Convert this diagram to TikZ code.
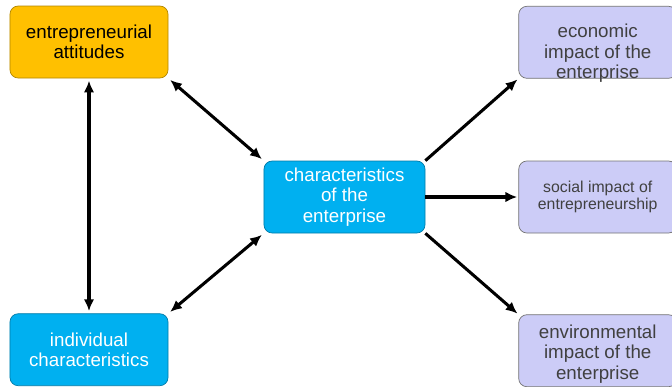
\documentclass[tikz,border=0pt]{standalone}
\usepackage{fontspec}
\setmainfont{Liberation Sans}
\usetikzlibrary{arrows.meta,
positioning,
calc}
\definecolor{attorange}{HTML}{FFC000}
\definecolor{entblue}{HTML}{00B0F0}
\definecolor{implilac}{HTML}{CCCCF7}

\begin{document}
\begin{tikzpicture} [x=0.03cm, y=-0.03cm,
    every node/.style={font=\fontsize{16}{17.5}\selectfont},
    main node/.style={rectangle, rounded corners=7pt, line width=0.6pt,
      align=center, minimum width=4.74cm, minimum height=2.16cm},
    impact node/.style={main node, fill=implilac, draw=black!55, text=black!75},
    impact text/.style={align=center, text=black!75, inner sep=0pt},
    conn/.style={line width=2.6pt, -{Latex[length=10pt,width=9pt]}, shorten >=1pt},
    biconn/.style={line width=2.6pt, {Latex[length=10pt,width=9pt]}-{Latex[length=10pt,width=9pt]},
      shorten >=2pt, shorten <=2pt}]

  \useasboundingbox (0,0) rectangle (672,386);

  \node [main node, fill=attorange, draw=attorange!70!black] (att) at (89,42)
  {entrepreneurial\\attitudes};

  \node [main node, fill=entblue, draw=entblue!70!black, text=white,
    below = 7.05cm of att] (ind) {individual\\characteristics};

  \node [main node, fill=entblue, draw=entblue!70!black, text=white,
    minimum width = 4.83cm] (ent) at (344.5,197) {characteristics\\of the\\enterprise};

  % impact boxes, cut by the right edge
  \node [impact node, right = 2.79cm of ent,
    font=\fontsize{13.5}{15}\selectfont] (soc) {social impact of\\entrepreneurship};

  \node [impact node, above = 2.46cm of soc] (econ) {};
  \node [impact text] (econ_txt) at ($(econ.center) + (0,11)$) {economic\\impact of the\\enterprise};

  \node [impact node, below = 2.43cm of soc] (env) {};
  \node [impact text] (env_txt) at ($(env.center) + (0,3)$) {environmental\\impact of the\\enterprise};

  \draw [biconn] (att.south) -- (ind.north);
  \draw [biconn] (att.south east) -- (ent.north west);
  \draw [biconn] (ind.north east) -- (ent.south west);

  \draw [conn] (ent.north east) -- (econ.south west);
  \draw [conn] (ent.east) -- (soc.west);
  \draw [conn] (ent.south east) -- (env.north west);

\end{tikzpicture}
\end{document}
